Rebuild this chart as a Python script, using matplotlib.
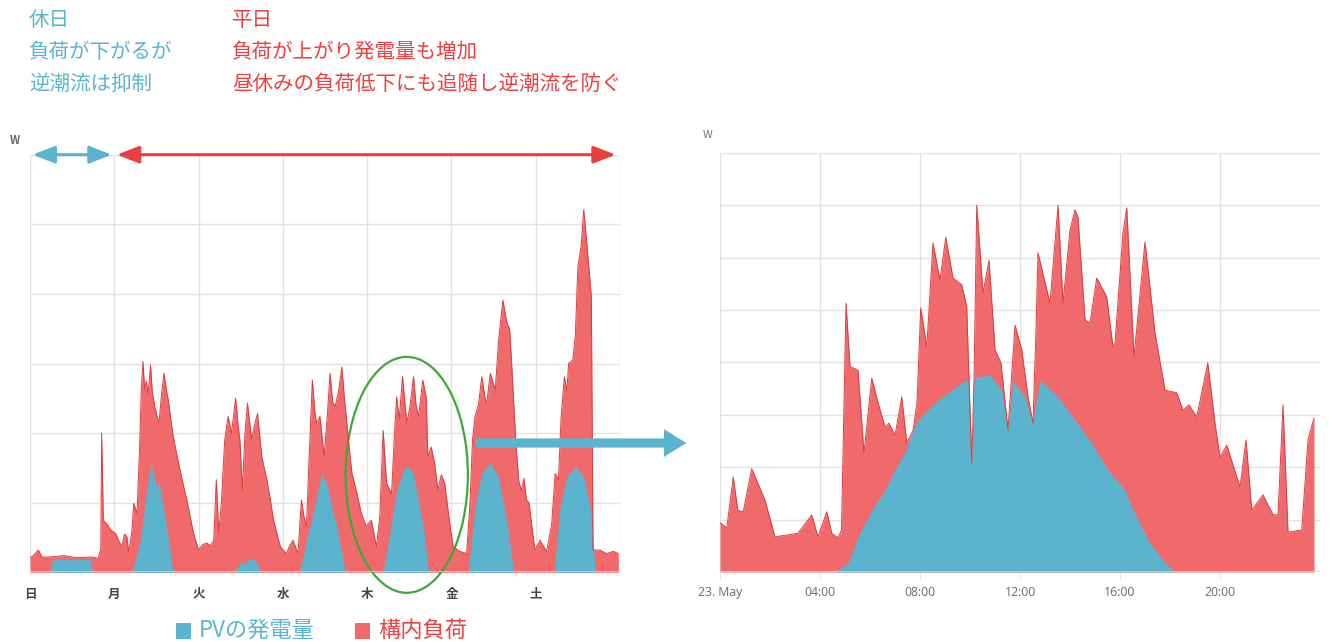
import matplotlib
matplotlib.use("Agg")
import matplotlib.pyplot as plt
from matplotlib.patches import Ellipse, Rectangle, FancyArrowPatch

plt.rcParams['font.family'] = ['Noto Sans CJK JP', 'DejaVu Sans']

# ---- データ ----
# 週間グラフ (日単位, グリッド1目盛 = 1)
week_days = ['日', '月', '火', '水', '木', '金', '土']
week_load_t = [0.00, 0.02, 0.10, 0.14, 0.24, 0.40, 0.55, 0.73, 0.81, 0.84, 0.85, 0.87, 0.92, 0.95, 0.99,
               1.02, 1.05, 1.09, 1.12, 1.15, 1.17, 1.21, 1.23, 1.27, 1.30, 1.32, 1.34, 1.36, 1.38, 1.40,
               1.43, 1.45, 1.48, 1.53, 1.56, 1.59, 1.62, 1.64, 1.67, 1.70, 1.74, 1.78, 1.82, 1.86, 1.90,
               1.94, 2.00, 2.05, 2.10, 2.14, 2.18, 2.21, 2.24, 2.27, 2.31, 2.35, 2.39, 2.44, 2.47, 2.49,
               2.52, 2.55, 2.58, 2.63, 2.66, 2.70, 2.73, 2.75, 2.81, 2.85, 2.89, 2.93, 2.97, 3.04, 3.08,
               3.12, 3.18, 3.22, 3.25, 3.28, 3.31, 3.35, 3.38, 3.40, 3.44, 3.49, 3.53, 3.56, 3.59, 3.62,
               3.66, 3.70, 3.73, 3.76, 3.79, 3.82, 3.87, 3.93, 3.99, 4.05, 4.11, 4.15, 4.19, 4.23, 4.29,
               4.32, 4.35, 4.38, 4.42, 4.47, 4.51, 4.55, 4.58, 4.61, 4.66, 4.70, 4.72, 4.76, 4.80, 4.84,
               4.88, 4.92, 4.98, 5.02, 5.10, 5.18, 5.22, 5.25, 5.28, 5.32, 5.36, 5.40, 5.42, 5.46, 5.50,
               5.52, 5.56, 5.61, 5.64, 5.66, 5.69, 5.71, 5.74, 5.77, 5.80, 5.83, 5.86, 5.89, 5.92, 5.95,
               5.99, 6.05, 6.13, 6.19, 6.23, 6.27, 6.30, 6.34, 6.37, 6.39, 6.44, 6.47, 6.50, 6.54, 6.57,
               6.60, 6.62, 6.66, 6.68, 6.76, 6.84, 6.92, 6.98]
week_load = [0.22, 0.22, 0.32, 0.22, 0.22, 0.24, 0.21, 0.22, 0.20, 0.35, 2.00, 0.75, 0.68, 0.62, 0.58,
             0.55, 0.46, 0.37, 0.55, 0.51, 0.28, 0.60, 0.99, 0.85, 1.80, 2.60, 3.03, 2.62, 2.75, 2.55,
             2.98, 2.60, 2.38, 2.14, 2.55, 2.86, 2.60, 2.48, 2.20, 1.95, 1.70, 1.47, 1.25, 1.04, 0.80,
             0.56, 0.32, 0.40, 0.42, 0.38, 0.46, 1.33, 0.56, 1.00, 1.90, 2.24, 2.00, 2.50, 2.10, 1.90,
             1.18, 2.00, 2.43, 1.90, 2.10, 2.28, 1.90, 1.66, 1.33, 1.05, 0.75, 0.55, 0.37, 0.27, 0.38,
             0.46, 0.27, 1.04, 0.80, 0.66, 1.60, 2.76, 2.30, 2.14, 2.24, 1.66, 2.30, 2.86, 2.45, 2.38,
             2.60, 2.95, 2.50, 2.14, 1.75, 1.42, 1.18, 0.85, 0.66, 0.75, 0.37, 0.80, 2.04, 1.28, 1.13,
             1.90, 2.52, 2.20, 2.81, 2.14, 2.40, 2.81, 2.40, 2.24, 2.76, 2.52, 1.66, 1.80, 1.57, 1.18,
             1.40, 1.28, 0.70, 0.37, 0.30, 0.27, 1.00, 1.90, 2.24, 2.40, 2.81, 2.50, 2.43, 2.86, 2.70,
             2.62, 3.34, 3.91, 3.70, 3.58, 3.50, 3.10, 2.40, 1.76, 1.30, 1.18, 1.35, 1.04, 1.00, 0.70,
             0.32, 0.46, 0.30, 0.70, 1.42, 1.33, 2.20, 2.81, 2.60, 3.00, 3.05, 3.40, 4.39, 4.70, 5.21,
             4.80, 4.53, 3.96, 0.32, 0.32, 0.27, 0.30, 0.27]
week_pv_t = [0.24, 0.27, 0.40, 0.55, 0.71, 0.74,
             1.21, 1.31, 1.38, 1.44, 1.50, 1.53, 1.56, 1.62, 1.70,
             2.43, 2.50, 2.55, 2.60, 2.66, 2.70, 2.74,
             3.20, 3.28, 3.36, 3.42, 3.46, 3.52, 3.58, 3.64, 3.74,
             4.19, 4.27, 4.35, 4.45, 4.50, 4.55, 4.62, 4.68, 4.73,
             5.20, 5.28, 5.36, 5.46, 5.56, 5.66, 5.74,
             6.22, 6.29, 6.37, 6.47, 6.57, 6.65, 6.71]
week_pv = [0.00, 0.19, 0.19, 0.18, 0.19, 0.00,
           0.00, 0.46, 1.13, 1.57, 1.23, 1.30, 1.09, 0.66, 0.00,
           0.00, 0.15, 0.12, 0.20, 0.18, 0.12, 0.00,
           0.00, 0.46, 0.85, 1.20, 1.42, 1.28, 0.94, 0.66, 0.00,
           0.00, 0.56, 1.18, 1.52, 1.52, 1.42, 0.95, 0.55, 0.00,
           0.00, 0.94, 1.42, 1.57, 1.37, 0.70, 0.00,
           0.00, 0.94, 1.37, 1.52, 1.37, 0.90, 0.00]

# 1日グラフ (時刻, グリッド1目盛 = 1)
day_ticks = ['23. May', '04:00', '08:00', '12:00', '16:00', '20:00']
day_load_t = [0.00, 0.27, 0.53, 0.71, 0.93, 1.27, 1.80, 2.20, 3.12, 3.67, 3.92, 4.27, 4.47, 4.72, 4.86,
              5.04, 5.20, 5.52, 5.76, 6.07, 6.32, 6.60, 6.76, 7.00, 7.27, 7.47, 7.72, 7.88, 8.03, 8.27,
              8.52, 8.80, 9.03, 9.32, 9.67, 9.87, 9.96, 10.07, 10.16, 10.27, 10.52, 10.76, 11.00, 11.24,
              11.52, 11.80, 12.07, 12.32, 12.52, 12.64, 12.72, 13.20, 13.52, 13.72, 14.00, 14.20, 14.32,
              14.60, 14.80, 15.07, 15.47, 15.72, 15.80, 16.12, 16.27, 16.56, 17.00, 17.40, 17.80, 18.27,
              18.52, 18.76, 19.07, 19.51, 19.80, 20.00, 20.27, 20.80, 21.04, 21.27, 21.72, 22.12, 22.32,
              22.52, 22.72, 23.27, 23.52, 23.76]
day_load = [0.94, 0.84, 1.81, 1.18, 1.15, 1.97, 1.37, 0.67, 0.74, 1.09, 0.67, 1.15, 0.74, 0.65, 0.80,
            5.13, 3.92, 3.85, 2.27, 3.70, 3.23, 2.77, 2.84, 2.61, 3.34, 2.46, 2.70, 3.23, 5.04, 4.29,
            6.28, 5.57, 6.39, 5.61, 5.48, 5.06, 3.66, 2.08, 3.66, 7.00, 5.32, 5.95, 4.24, 3.99,
            2.71, 4.71, 4.24, 3.34, 2.84, 4.62, 6.09, 5.13, 7.00, 5.13, 6.53, 6.91, 6.77,
            4.81, 4.75, 5.61, 5.25, 4.29, 4.37, 6.47, 6.95, 4.10, 6.30, 4.56, 3.47, 3.42,
            3.09, 3.19, 2.96, 3.99, 2.84, 2.19, 2.42, 1.62, 2.52, 1.18, 1.47, 1.09, 1.09,
            3.19, 0.76, 0.80, 2.52, 2.94]
day_pv_t = [4.60, 5.12, 5.52, 6.07, 6.60, 7.00, 7.40, 7.67, 7.92, 8.20, 8.60, 9.20, 9.80, 9.96, 10.07,
            10.16, 10.27, 10.80, 11.27, 11.52, 11.72, 12.20, 12.50, 12.80, 13.52, 14.20, 14.87, 15.52,
            16.20, 16.47, 17.12, 17.80, 18.20]
day_pv = [0.00, 0.17, 0.67, 1.18, 1.56, 1.95, 2.27, 2.65, 2.90, 3.03, 3.23, 3.45, 3.66, 3.66, 2.08,
          3.66, 3.72, 3.76, 3.47, 2.71, 3.66, 3.34, 2.84, 3.66, 3.34, 2.90, 2.46, 1.95,
          1.56, 1.24, 0.61, 0.17, 0.00]

# ---- 色 ----
RED_FILL = '#f06a6c'
RED_EDGE = '#dc3c3e'
BLUE = '#5bb3ce'
RED_TXT = '#ee4040'
BLUE_TXT = '#5bb5d0'
GRID = '#e2e2e2'

W, H = 1338, 642
fig = plt.figure(figsize=(W / 100, H / 100), dpi=100)


def rect(x0, x1, ytop, ybot):
    return [x0 / W, 1 - ybot / H, (x1 - x0) / W, (ybot - ytop) / H]


def ftext(x, y, s, **kw):
    fig.text(x / W, 1 - y / H, s, **kw)


# ---- 上部テキスト ----
for i, s in enumerate(['休日', '負荷が下がるが', '逆潮流は抑制']):
    ftext(29, 20 + 32 * i, s, color=BLUE_TXT, fontsize=14.8, va='center')
for i, s in enumerate(['平日', '負荷が上がり発電量も増加', '昼休みの負荷低下にも追随し逆潮流を防ぐ']):
    ftext(232, 20 + 32 * i, s, color=RED_TXT, fontsize=14.8, va='center')

# ---- 週間グラフ ----
ax1 = fig.add_axes(rect(30, 620, 154.7, 572.3))
ax1.fill_between(week_load_t, week_load, color=RED_FILL, lw=0)
ax1.plot(week_load_t, week_load, color=RED_EDGE, lw=0.7)
ax1.fill_between(week_pv_t, week_pv, color=BLUE, lw=0)
ax1.set_xlim(0, 7)
ax1.set_ylim(0, 6)
ax1.set_xticks(range(7))
ax1.set_xticklabels(week_days, fontsize=9, color='#444444', fontweight='bold')
ax1.set_yticks(range(7))
ax1.set_yticklabels([])
ax1.tick_params(length=0, pad=11)
ax1.grid(color=GRID, lw=1)
ax1.set_axisbelow(True)
ax1.axvline(7, color=GRID, lw=1, zorder=0)
ax1.axhline(0, color='#c9d5e2', lw=1.2)
for sp in ax1.spines.values():
    sp.set_visible(False)
ftext(15, 140, 'W', color='#666666', fontsize=8, ha='center', va='center', fontweight='bold')

# 休日・平日の矢印
ax1.add_patch(FancyArrowPatch((0.03, 6), (0.97, 6), arrowstyle='<|-|>,head_length=0.9,head_width=0.35',
                              mutation_scale=15, color=BLUE, lw=2.2, clip_on=False, shrinkA=0, shrinkB=0))
ax1.add_patch(FancyArrowPatch((1.03, 6), (6.95, 6), arrowstyle='<|-|>,head_length=0.9,head_width=0.35',
                              mutation_scale=15, color='#e8403f', lw=2.2, clip_on=False, shrinkA=0, shrinkB=0))

# 木曜日の楕円
ax1.add_patch(Ellipse((4.47, 1.40), 1.45, 3.39, fill=False, edgecolor='#3aaa35', lw=1.6, clip_on=False))

# 拡大矢印
fig.add_artist(FancyArrowPatch((473, H - 443), (689, H - 443), transform=None,
                               arrowstyle='simple,head_length=0.8,head_width=1.0,tail_width=0.33',
                               mutation_scale=20, color=BLUE, lw=0))

# ---- 1日グラフ ----
ax2 = fig.add_axes(rect(720, 1320, 152.8, 572))
ax2.fill_between(day_load_t, day_load, color=RED_FILL, lw=0)
ax2.plot(day_load_t, day_load, color=RED_EDGE, lw=0.7)
ax2.fill_between(day_pv_t, day_pv, color=BLUE, lw=0)
ax2.set_xlim(0, 24)
ax2.set_ylim(0, 8)
ax2.set_xticks(range(0, 24, 4))
ax2.set_xticklabels(day_ticks, fontsize=8.8, color='#6a6a6a', family=['Open Sans', 'DejaVu Sans'])
ax2.set_yticks(range(9))
ax2.set_yticklabels([])
ax2.tick_params(axis='x', length=5, color=GRID, pad=5)
ax2.tick_params(axis='y', length=0)
ax2.grid(color=GRID, lw=1)
ax2.set_axisbelow(True)
ax2.axhline(0, color='#c9d5e2', lw=1.2)
for sp in ax2.spines.values():
    sp.set_visible(False)
ftext(708, 135, 'W', color='#777777', fontsize=8, ha='center', va='center')

# ---- 凡例 ----
fig.add_artist(Rectangle((176 / W, 1 - 639 / H), 15 / W, 16 / H, transform=fig.transFigure, color=BLUE, lw=0))
ftext(199, 630, 'PVの発電量', color=BLUE_TXT, fontsize=16, va='center')
fig.add_artist(Rectangle((355 / W, 1 - 639 / H), 15 / W, 16 / H, transform=fig.transFigure, color=RED_FILL, lw=0))
ftext(378, 630, '構内負荷', color=RED_TXT, fontsize=16, va='center')

fig.savefig('out.png', dpi=100)
